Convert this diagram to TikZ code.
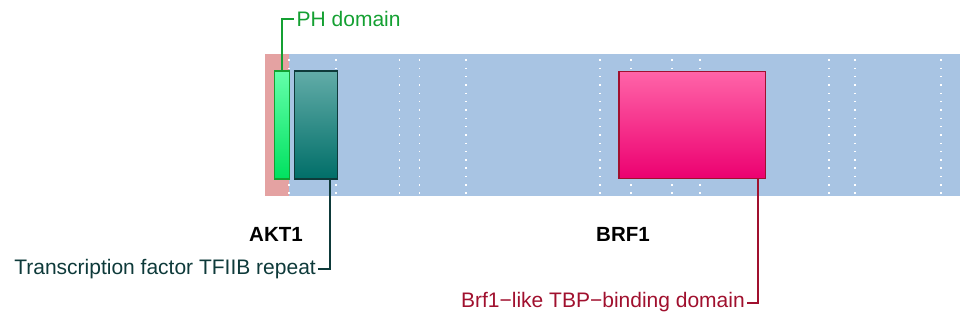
\documentclass[tikz,border=0pt]{standalone}
\usepackage{fontspec}
\setmainfont{Liberation Sans}
\begin{document}
\definecolor{bandred}{HTML}{E4A2A2}
\definecolor{bandblue}{HTML}{A8C4E3}
\definecolor{phgreen}{HTML}{14A032}
\definecolor{tealdark}{HTML}{0E3A3A}
\definecolor{pinkdark}{HTML}{A0102E}
\begin{tikzpicture}[x=1pt,y=-1pt,
  band/.style={inner sep=0pt,outer sep=0pt,anchor=north west,minimum height=142pt},
  dotline/.style={draw=white,line width=1.6pt,dash pattern=on 1.6pt off 6.73pt},
  dombox/.style={inner sep=0pt,outer sep=0pt,anchor=north west,minimum height=108pt,line width=1.3pt},
  lbl/.style={inner sep=0pt,font=\fontsize{21}{23}\selectfont},
  gname/.style={inner sep=0pt,font=\fontsize{20.5}{22}\selectfont\bfseries},
  conn/.style={line width=2pt}]
\useasboundingbox (0,0) rectangle (967,327);
\node[band,fill=bandred,minimum width=24pt] (redband) at (265,54) {};
\node[band,fill=bandblue,minimum width=671pt] (blueband) at (289,54) {};
\foreach \x in {289,336,399.3,419.3,466,600,630.7,672,700,828.7,854.7,941}
  \draw[dotline] (\x,59.2) -- (\x,196);
\node[dombox,draw=phgreen,minimum width=15pt,top color={rgb,255:red,100;green,255;blue,170},bottom color={rgb,255:red,0;green,225;blue,95}] (ph) at (274.3,71) {};
\node[dombox,draw=tealdark,minimum width=43.4pt,top color={rgb,255:red,98;green,172;blue,168},bottom color={rgb,255:red,0;green,110;blue,104}] (tf) at (294.3,71) {};
\node[dombox,draw=pinkdark,minimum width=146.3pt,minimum height=107pt,top color={rgb,255:red,255;green,100;blue,168},bottom color={rgb,255:red,236;green,0;blue,112}] (brf) at (619,71.7) {};
\node[lbl,anchor=west,text=phgreen] (phtxt) at (296.5,19) {PH domain};
\node[lbl,anchor=east,text=tealdark] (tftxt) at (316,269) {Transcription factor TFIIB repeat};
\node[lbl,anchor=east,text=pinkdark] (brftxt) at (745,302.5) {Brf1−like TBP−binding domain};
\node[gname] (akt1) at (276,234) {AKT1};
\node[gname] (brf1) at (623,234) {BRF1};
\draw[conn,draw=phgreen] (ph.north) |- ([xshift=-3pt]phtxt.west);
\draw[conn,draw=tealdark] ([xshift=-7.7pt]tf.south east) |- ([xshift=2pt]tftxt.east);
\draw[conn,draw=pinkdark] ([xshift=-7.6pt]brf.south east) |- ([xshift=2pt]brftxt.east);
\end{tikzpicture}
\end{document}
